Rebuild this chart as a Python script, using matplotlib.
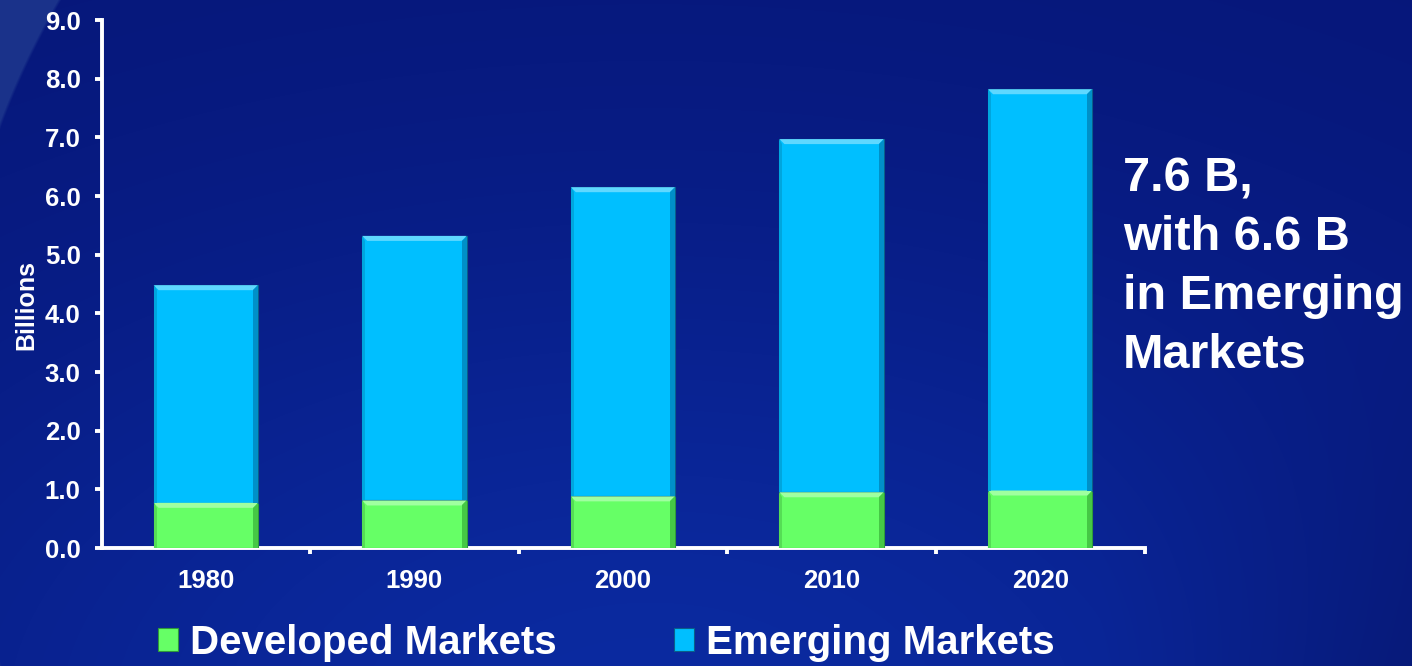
import numpy as np
import matplotlib
matplotlib.use("Agg")
import matplotlib.pyplot as plt
from matplotlib.patches import Polygon
from matplotlib.ticker import FixedLocator

# Population by market type, in billions
years = ["1980", "1990", "2000", "2010", "2020"]
developed = [0.77, 0.81, 0.88, 0.95, 0.98]
emerging = [3.71, 4.51, 5.27, 6.02, 6.84]

series_labels = ["Developed Markets", "Emerging Markets"]
y_ticks = [0, 1, 2, 3, 4, 5, 6, 7, 8, 9]
callout_lines = ["7.6 B,", "with 6.6 B", "in Emerging", "Markets"]

GREEN = "#66ff66"
CYAN = "#00bfff"
WHITE = "white"
FONT = "Liberation Sans"

W, H, DPI = 1412, 666, 100
fig = plt.figure(figsize=(W / DPI, H / DPI), dpi=DPI)

# --- slide background: navy gradient with a lighter arc in the top-left corner
bg_ax = fig.add_axes([0, 0, 1, 1], zorder=-10)
yy, xx = np.mgrid[0:H, 0:W].astype(float)
base = np.array([6, 22, 120], float)
glow = np.exp(-(((xx - 650) / 900) ** 2 + ((yy - 720) / 520) ** 2))
img = base[None, None, :] + glow[..., None] * np.array([5, 20, 40], float)
dim = np.clip((xx - 1100) / 400, 0, 1) * np.clip((yy - 300) / 400, 0, 1)
img -= dim[..., None] * np.array([2, 8, 25], float)
r = np.hypot(xx - 731, yy - 395)
arc = np.clip((r - 778) / 3.0, 0, 1) * (xx < 300)
img = img * (1 - arc[..., None]) + arc[..., None] * np.array([26, 50, 138], float)
bg_ax.imshow(np.clip(img, 0, 255).astype(np.uint8), aspect="auto",
             extent=[0, 1, 0, 1], interpolation="bilinear")
bg_ax.axis("off")

# --- chart axes
ax = fig.add_axes([101.5 / W, 1 - 548 / H, (1144.5 - 101.5) / W, (548 - 20) / H])
ax.patch.set_alpha(0)
x = np.arange(len(years))
bar_w = 0.5

b1 = ax.bar(x, developed, width=bar_w, color=GREEN, edgecolor="#2f9a3a",
            linewidth=0.8, label=series_labels[0], zorder=3)
b2 = ax.bar(x, emerging, bottom=developed, width=bar_w, color=CYAN,
            edgecolor="#0a5f8a", linewidth=0.8, label=series_labels[1], zorder=3)

ax.set_xlim(-0.5, len(years) - 0.5)
ax.set_ylim(0, 9)

# bevel shading on each bar segment
px_x = (len(years)) / (1144.5 - 101.5)
px_y = 9 / (548 - 20)
dx, dy = 5 * px_x, 5 * px_y
shades = {GREEN: ("#a0ffa0", "#45c845", "#55dd55"),
          CYAN: ("#5fd8ff", "#0090c8", "#00a6de")}
for container, col in ((b1, GREEN), (b2, CYAN)):
    top_c, right_c, left_c = shades[col]
    for p in container.patches:
        x0, y0 = p.get_x(), p.get_y()
        x1, y1 = x0 + p.get_width(), y0 + p.get_height()
        ax.add_patch(Polygon([(x0, y1), (x1, y1), (x1 - dx, y1 - dy), (x0 + dx, y1 - dy)],
                             closed=True, facecolor=top_c, edgecolor="none", zorder=4))
        ax.add_patch(Polygon([(x1, y1), (x1, y0), (x1 - dx, y0), (x1 - dx, y1 - dy)],
                             closed=True, facecolor=right_c, edgecolor="none", zorder=4))
        ax.add_patch(Polygon([(x0, y1), (x0, y0), (x0 + dx * 0.6, y0), (x0 + dx * 0.6, y1 - dy)],
                             closed=True, facecolor=left_c, edgecolor="none", zorder=4))

# spines and ticks
for side in ("top", "right"):
    ax.spines[side].set_visible(False)
for side in ("left", "bottom"):
    ax.spines[side].set_color(WHITE)
    ax.spines[side].set_linewidth(2.8)
    ax.spines[side].set_capstyle("projecting")

ax.yaxis.set_major_locator(FixedLocator(y_ticks))
ax.set_yticklabels([f"{v:.1f}" for v in y_ticks], fontsize=18.5, fontweight="bold",
                   color=WHITE, family=FONT)
ax.tick_params(axis="y", direction="out", length=5, width=2.8, color=WHITE, pad=10)

ax.set_xticks(x)
ax.set_xticklabels(years, fontsize=18.5, fontweight="bold", color=WHITE, family=FONT)
ax.tick_params(axis="x", which="major", length=0, pad=15)
ax.xaxis.set_minor_locator(FixedLocator(np.arange(0.5, len(years), 1.0)))
ax.tick_params(axis="x", which="minor", direction="out", length=4, width=2.8, color=WHITE)

ax.set_ylabel("Billions", fontsize=18, fontweight="bold", color=WHITE, family=FONT)
ax.yaxis.set_label_coords(-0.061, 0.46)

# legend below the plot
fig.legend(handles=[b1, b2], labels=series_labels, loc="center left",
           bbox_to_anchor=(158 / W, 1 - 643 / H), ncol=2, frameon=False,
           prop={"family": FONT, "weight": "bold", "size": 29},
           labelcolor=WHITE, handlelength=0.5, handleheight=0.5,
           handletextpad=0.3, columnspacing=2.9, borderpad=0, borderaxespad=0)

# callout text on the right
fig.text(1123 / W, 1 - 156 / H, "\n".join(callout_lines), ha="left", va="top",
         fontsize=35, fontweight="bold", color=WHITE, family=FONT, linespacing=1.4)

fig.savefig("out.png", dpi=DPI)
